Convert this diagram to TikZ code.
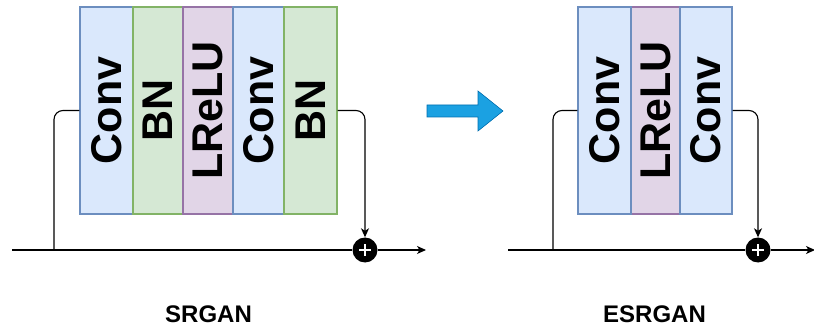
\documentclass[tikz,border=0pt]{standalone}
\usepackage{fontspec}
\setmainfont{Liberation Sans}
\usetikzlibrary{arrows.meta}
\definecolor{convfill}{HTML}{DAE8FC}
\definecolor{convdraw}{HTML}{6C8EBF}
\definecolor{bnfill}{HTML}{D5E8D4}
\definecolor{bndraw}{HTML}{82B366}
\definecolor{actfill}{HTML}{E1D5E7}
\definecolor{actdraw}{HTML}{9673A6}
\definecolor{arrowfill}{HTML}{1BA1E2}
\definecolor{arrowdraw}{HTML}{006EAF}
\tikzset{
  layer/.style={draw, line width=1.2pt, minimum height=207pt, inner sep=0pt,
    font=\fontsize{43}{43}\selectfont\bfseries},
  convlayer/.style={layer, fill=convfill, draw=convdraw},
  bnlayer/.style={layer, fill=bnfill, draw=bndraw},
  actlayer/.style={layer, fill=actfill, draw=actdraw},
  wire/.style={line width=1.1pt, black},
  flow/.style={wire, -{Stealth[length=9pt,width=8pt,inset=2.5pt]}},
  sumnode/.style={circle, fill=black, minimum size=25pt, inner sep=0pt},
  caption/.style={font=\fontsize{24}{24}\selectfont\bfseries}
}
\newcommand{\vtext}[1]{\rotatebox{90}{#1}}
\newcommand{\plussign}[1]{%
  \draw[white, line width=2.6pt] ([xshift=-6pt]#1.center) -- ([xshift=6pt]#1.center);
  \draw[white, line width=2.6pt] ([yshift=-6pt]#1.center) -- ([yshift=6pt]#1.center);}
\begin{document}
\begin{tikzpicture}[x=1pt, y=-1pt]
\useasboundingbox (0,0) rectangle (814,331);

% ---------- residual block with batch norm ----------
\node[convlayer, minimum width=53pt] (sc1) at (106.5,110.5) {\vtext{Conv}};
\node[bnlayer,   minimum width=50pt] (sb1) at (158,110.5) {\vtext{BN}};
\node[actlayer,  minimum width=50pt] (sa1) at (208,110.5) {\vtext{LReLU}};
\node[convlayer, minimum width=51pt] (sc2) at (258.5,110.5) {\vtext{Conv}};
\node[bnlayer,   minimum width=53pt] (sb2) at (310.5,110.5) {\vtext{BN}};

\node[sumnode] (ssum) at (365,250) {};
\coordinate (sin) at (12,250);
\coordinate (sskip) at (54,250);
\coordinate (sout) at (426,250);

\draw[wire] (sin) -- (ssum);
\draw[flow] (ssum) -- (sout);
\draw[wire, rounded corners=9pt] (sc1.west) -| (sskip);
\draw[flow, rounded corners=9pt] (sb2.east) -| (ssum.north);
\plussign{ssum}

\node[caption] (slabel) at (208.5,314) {SRGAN};

% ---------- arrow between the two blocks ----------
\filldraw[fill=arrowfill, draw=arrowdraw, line width=0.6pt]
  (427,105) -- (478,105) -- (478,91) -- (503,111) -- (478,131) -- (478,117) -- (427,117) -- cycle;

% ---------- residual block without batch norm ----------
\node[actlayer,  minimum width=49pt] (ea1) at (655.5,110.5) {\vtext{LReLU}};
\node[convlayer, minimum width=53pt] (ec1) at (604.5,110.5) {\vtext{Conv}};
\node[convlayer, minimum width=52pt] (ec2) at (706,110.5) {\vtext{Conv}};

\node[sumnode] (esum) at (758,250) {};
\coordinate (ein) at (508,250);
\coordinate (eskip) at (553,250);
\coordinate (eout) at (815,250);

\draw[wire] (ein) -- (esum);
\draw[flow] (esum) -- (eout);
\draw[wire, rounded corners=9pt] (ec1.west) -| (eskip);
\draw[flow, rounded corners=9pt] (ec2.east) -| (esum.north);
\plussign{esum}

\node[caption] (elabel) at (654.5,314) {ESRGAN};
\end{tikzpicture}
\end{document}
